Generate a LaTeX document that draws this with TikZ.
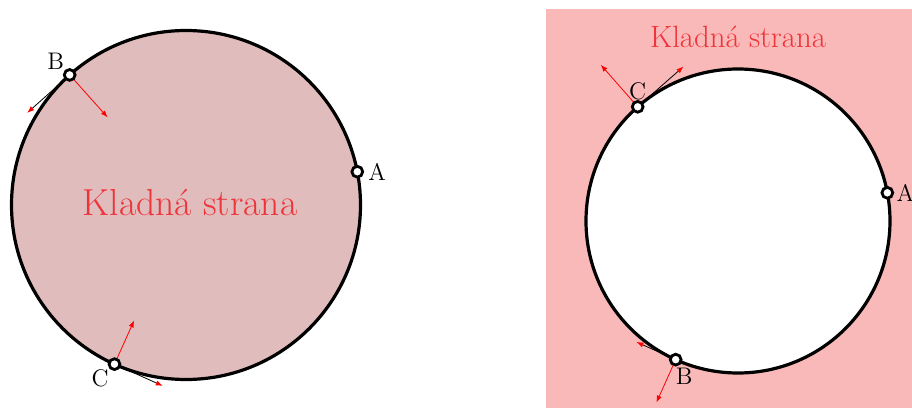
\documentclass[tikz,border=0pt]{standalone}
\usepackage{xcolor}
\usepackage{tikz}
\usetikzlibrary{positioning, arrows.meta}
\definecolor{leftfill}{RGB}{224,188,188}
\definecolor{rightfill}{RGB}{250,185,185}
\definecolor{sidetext}{RGB}{238,52,58}
\begin{document}
\begin{tikzpicture}[x=0.5pt, y=0.5pt,
    curve/.style={draw, line width=1.6pt},
    pt/.style={circle, draw, line width=1.4pt, fill=white, inner sep=0pt,
               minimum size=5.4pt},
    lbl/.style={inner sep=1pt, font=\large},
    tang/.style={-{Latex[length=3.5pt, width=2.6pt, color=red]}, thin, black},
    norm/.style={-{Latex[length=3.5pt, width=2.6pt]}, thin, red}]
  \useasboundingbox (0,0) rectangle (912,408);
  \fill[rightfill] (546,0) rectangle (912,399);
  \coordinate (O1) at (186,203);
  \coordinate (O2) at (738,187);
  \draw[curve, fill=leftfill] (O1) circle[radius=174.5];
  \draw[curve, fill=white] (O2) circle[radius=152];
  \node[font=\fontsize{18.8}{22}\selectfont, text=sidetext] (side1) at (190,205) {Kladná strana};
  \node[font=\fontsize{15.4}{18}\selectfont, text=sidetext] (side2) at (738,371) {Kladná strana};
  \coordinate (B1) at ([shift={(131.8:174.5)}]O1);
  \coordinate (C1) at ([shift={(245.8:174.5)}]O1);
  \coordinate (C2) at ([shift={(131.3:152)}]O2);
  \coordinate (B2) at ([shift={(245.8:152)}]O2);
  \coordinate (B1t) at ([shift={(221.8:57)}]B1);
  \coordinate (B1n) at ([shift={(311.8:57)}]B1);
  \coordinate (C1t) at ([shift={(335.8:53)}]C1);
  \coordinate (C1n) at ([shift={(65.8:48)}]C1);
  \coordinate (C2t) at ([shift={(41.3:61)}]C2);
  \coordinate (C2n) at ([shift={(131.3:56)}]C2);
  \coordinate (B2t) at ([shift={(155.8:43)}]B2);
  \coordinate (B2n) at ([shift={(245.8:47)}]B2);
  \draw[tang] (B1) -- (B1t);
  \draw[norm] (B1) -- (B1n);
  \draw[tang] (C1) -- (C1t);
  \draw[norm] (C1) -- (C1n);
  \draw[tang] (C2) -- (C2t);
  \draw[norm] (C2) -- (C2n);
  \draw[tang] (B2) -- (B2t);
  \draw[norm] (B2) -- (B2n);
  \node[pt] (a1) at ([shift={(11:174.5)}]O1) {};
  \node[pt] (b1) at (B1) {};
  \node[pt] (c1) at (C1) {};
  \node[pt] (a2) at ([shift={(10.7:152)}]O2) {};
  \node[pt] (c2) at (C2) {};
  \node[pt] (b2) at (B2) {};
  \node[lbl, right=1pt of a1] (la1) {A};
  \node[lbl, above left=-1pt of b1] (lb1) {B};
  \node[lbl, below left=-1pt of c1] (lc1) {C};
  \node[lbl, right=0pt of a2] (la2) {A};
  \node[lbl, above=-1pt of c2] (lc2) {C};
  \node[lbl, below right=0.5pt and -3.5pt of b2] (lb2) {B};
\end{tikzpicture}
\end{document}
